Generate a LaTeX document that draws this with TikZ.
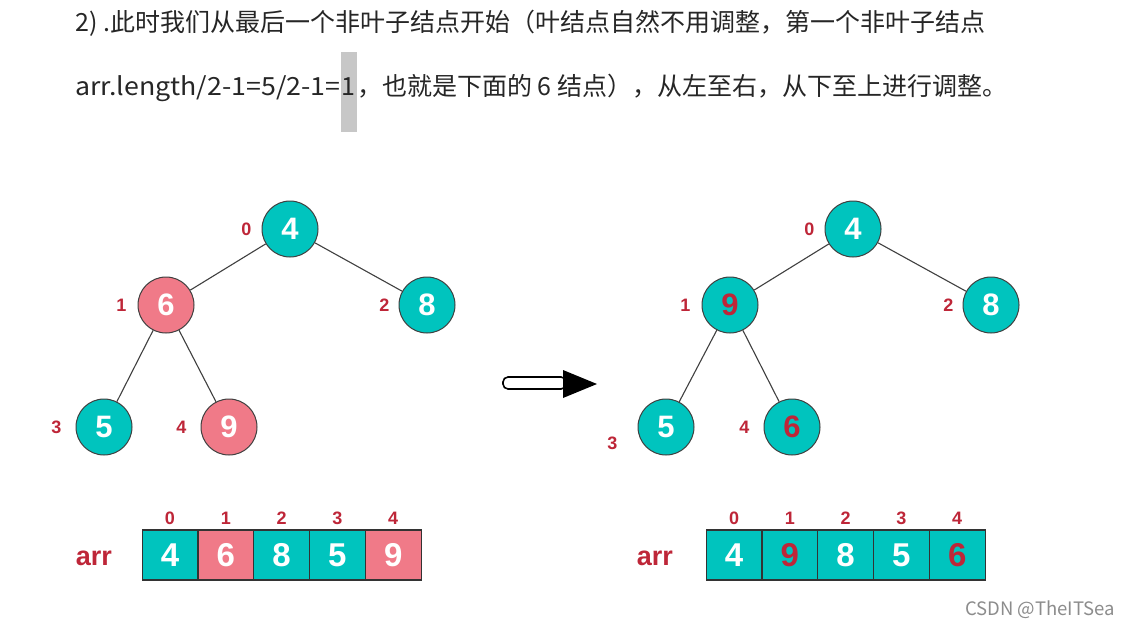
\documentclass[tikz,border=0pt]{standalone}
\usepackage{fontspec}
\setmainfont{Liberation Sans}
\newfontfamily\cjk{Noto Sans CJK SC}
\usetikzlibrary{positioning}

\definecolor{heapteal}{RGB}{0,196,190}
\definecolor{heappink}{RGB}{240,122,136}
\definecolor{idxred}{RGB}{190,38,56}

\begin{document}
\begin{tikzpicture}[x=1pt, y=-1pt]
    % Define node styles
    \tikzstyle{heapnode} = [circle, draw=black!75, line width=1pt, fill=heapteal, minimum size=56pt, inner sep=0pt, text=white, font=\fontsize{31}{31}\selectfont\bfseries]
    \tikzstyle{hotnode} = [heapnode, fill=heappink]
    \tikzstyle{idx} = [text=idxred, inner sep=0pt, font=\fontsize{18}{18}\selectfont\bfseries]
    \tikzstyle{cell} = [rectangle, draw=black!80, line width=1.2pt, fill=heapteal, minimum width=55.8pt, minimum height=50pt, inner sep=0pt, outer sep=0pt, text=white, font=\fontsize{33}{33}\selectfont\bfseries]
    \tikzstyle{hotcell} = [cell, fill=heappink]
    \tikzstyle{edge} = [draw=black!75, line width=1.1pt]
    \tikzstyle{textline} = [inner sep=0pt, text=black!85, font=\cjk\fontsize{25}{29}\selectfont]
    \tikzstyle{arrlabel} = [text=idxred, inner sep=0pt, font=\fontsize{27}{27}\selectfont\bfseries]

    \useasboundingbox[fill=white] (0,0) rectangle (1129,629);

    % Explanation text
    \node [textline, anchor=base west] (line1) at (75,31) {2) .此时我们从最后一个非叶子结点开始（叶结点自然不用调整，第一个非叶子结点};
    \node [textline, anchor=base west] (line2a) at (75,95) {\scalebox{1.07}[1]{arr.length/2-1=5/2-1=}};
    \node [textline, anchor=base west, fill=black!22, text height=43pt, text depth=37pt, inner xsep=1pt] (line2b) at (line2a.base east) {1};
    \node [textline, anchor=base west] (line2c) at (line2b.base east) {，也就是下面的 6 结点），从左至右，从下至上进行调整。};

    % Place left tree
    \node [heapnode] (l0) at (290,229) {4};
    \node [hotnode] (l1) at (166,305) {6};
    \node [heapnode] (l2) at (427,305) {8};
    \node [heapnode] (l3) at (104,427) {5};
    \node [hotnode] (l4) at (229,427) {9};

    \node [idx, left=10pt of l0] (li0) {0};
    \node [idx, left=11pt of l1] (li1) {1};
    \node [idx, left=9pt of l2] (li2) {2};
    \node [idx, left=14pt of l3] (li3) {3};
    \node [idx, left=14pt of l4] (li4) {4};

    \draw [edge] (l0) -- (l1);
    \draw [edge] (l0) -- (l2);
    \draw [edge] (l1) -- (l3);
    \draw [edge] (l1) -- (l4);

    % Place right tree
    \node [heapnode] (r0) at (853,229) {4};
    \node [heapnode, text=idxred] (r1) at (730,305) {9};
    \node [heapnode] (r2) at (991,305) {8};
    \node [heapnode] (r3) at (666,427) {5};
    \node [heapnode, text=idxred] (r4) at (792,427) {6};

    \node [idx, left=10pt of r0] (ri0) {0};
    \node [idx, left=11pt of r1] (ri1) {1};
    \node [idx, left=9pt of r2] (ri2) {2};
    \node [idx, left=20pt of r3, yshift=-16pt] (ri3) {3};
    \node [idx, left=14pt of r4] (ri4) {4};

    \draw [edge] (r0) -- (r1);
    \draw [edge] (r0) -- (r2);
    \draw [edge] (r1) -- (r3);
    \draw [edge] (r1) -- (r4);

    % Big arrow between the trees
    \coordinate (shaftA) at (503,377);
    \coordinate (shaftB) at (566,389);
    \draw [line width=1.6pt, fill=white, rounded corners=5pt] (shaftA) rectangle (shaftB);
    \fill [black] (563,370) -- (597,384) -- (563,398) -- cycle;

    % Left array
    \node [cell] (la0) at (170,555) {4};
    \node [hotcell, right=0pt of la0] (la1) {6};
    \node [cell, right=0pt of la1] (la2) {8};
    \node [cell, right=0pt of la2] (la3) {5};
    \node [hotcell, right=0pt of la3] (la4) {9};
    \node [arrlabel, left=30pt of la0, yshift=-3pt] (larr) {arr};
    \foreach \i in {0,...,4}
        \node [idx, above=5pt of la\i] (lai\i) {\i};

    % Right array
    \node [cell] (ra0) at (734,555) {4};
    \node [cell, right=0pt of ra0, text=idxred] (ra1) {9};
    \node [cell, right=0pt of ra1] (ra2) {8};
    \node [cell, right=0pt of ra2] (ra3) {5};
    \node [cell, right=0pt of ra3, text=idxred] (ra4) {6};
    \node [arrlabel, left=33pt of ra0, yshift=-3pt] (rarr) {arr};
    \foreach \i in {0,...,4}
        \node [idx, above=5pt of ra\i] (rai\i) {\i};

    % Watermark
    \node [inner sep=0pt, anchor=east, text=black!45, font=\cjk\fontsize{18.5}{18.5}\selectfont] (mark) at (1115,610) {CSDN @TheITSea};
\end{tikzpicture}
\end{document}
